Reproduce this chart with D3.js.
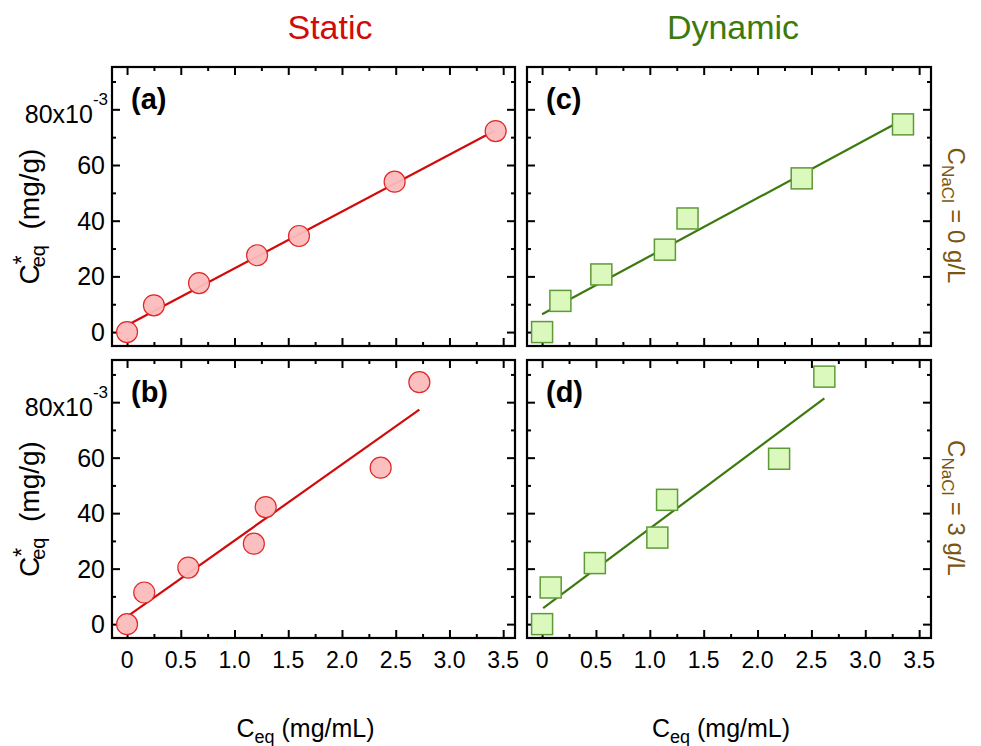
<!DOCTYPE html>
<html>
<head>
<meta charset="utf-8">
<script src="https://cdn.jsdelivr.net/npm/d3@7"></script>
<style>
  body { margin: 0; background: #fff; }
  svg text { font-family: "Liberation Sans", Arial, Helvetica, sans-serif; }
</style>
</head>
<body>
<div id="chart"></div>
<script>
// data, y values in units of 10^-3 mg/g
var xTicks = [0, 0.5, 1.0, 1.5, 2.0, 2.5, 3.0, 3.5];
var yTicks = [0, 20, 40, 60, 80];

var staticNoSaltX = [0, 0.25, 0.67, 1.21, 1.60, 2.49, 3.43];
var staticNoSaltY = [0, 9.6, 17.6, 27.6, 34.5, 54.0, 72.2];
var staticNoSaltFit = [[0.01, 2.6], [3.42, 72.3]];

var staticSaltX = [0, 0.16, 0.57, 1.18, 1.29, 2.36, 2.72];
var staticSaltY = [0, 11.4, 20.4, 29.0, 42.2, 56.4, 87.2];
var staticSaltFit = [[0.01, 3.0], [2.72, 77.3]];

var dynamicNoSaltX = [0, 0.17, 0.55, 1.14, 1.35, 2.41, 3.35];
var dynamicNoSaltY = [0, 11.2, 20.7, 29.6, 40.8, 55.2, 74.6];
var dynamicNoSaltFit = [[0, 6.4], [3.34, 76.1]];

var dynamicSaltX = [0, 0.08, 0.49, 1.07, 1.16, 2.20, 2.62];
var dynamicSaltY = [0, 13.2, 22.0, 31.2, 44.8, 59.6, 89.2];
var dynamicSaltFit = [[0.01, 5.8], [2.62, 81.4]];

var columnTitles = ["Static", "Dynamic"];
var panelLetters = ["(a)", "(b)", "(c)", "(d)"];
var saltLabels = ["0", "3"];

/////////////////////////////////////
// layout
/////////////////////////////////////
var width = 981, height = 746;
var colX = [[112, 515], [527, 931]];
var rowY = [[67, 346], [360, 638]];
var xDomain = [-0.14, 3.61];
var yDomain = [-5, 95.2];

var red = "#d10a0a", green = "#3d7a0e", brown = "#7a5512";

var svg = d3.select("#chart").append("svg")
  .attr("width", width)
  .attr("height", height);

var Panel = function(opt) {
  this.col = opt.col;
  this.row = opt.row;
  this.xs = opt.xs;
  this.ys = opt.ys;
  this.fit = opt.fit;
  this.letter = opt.letter;
  this.kind = opt.kind;
  this.draw();
};

Panel.prototype.draw = function() {
  var that = this;
  var x0 = colX[this.col][0], x1 = colX[this.col][1];
  var y0 = rowY[this.row][0], y1 = rowY[this.row][1];
  this.xScale = d3.scaleLinear().domain(xDomain).range([x0, x1]);
  this.yScale = d3.scaleLinear().domain(yDomain).range([y1, y0]);

  var g = svg.append("g");

  // ticks inside on all four sides, minor ticks between majors
  var xMinor = d3.range(0.25, 3.6, 0.5);
  var yMinor = d3.range(10, 95, 20);
  var sides = [
    { axis: d3.axisBottom, pos: y0, scale: this.xScale, tr: function(p) { return "translate(0," + p + ")"; } },
    { axis: d3.axisTop, pos: y1, scale: this.xScale, tr: function(p) { return "translate(0," + p + ")"; } },
    { axis: d3.axisRight, pos: x0, scale: this.yScale, tr: function(p) { return "translate(" + p + ",0)"; } },
    { axis: d3.axisLeft, pos: x1, scale: this.yScale, tr: function(p) { return "translate(" + p + ",0)"; } }
  ];
  sides.forEach(function(s, i) {
    var isX = i < 2;
    g.append("g").attr("transform", s.tr(s.pos))
      .call(s.axis(s.scale).tickValues(isX ? xTicks : yTicks).tickSize(8).tickFormat(""))
      .call(function(a) { a.select(".domain").remove(); a.selectAll("line").attr("stroke", "#000").attr("stroke-width", 2); });
    g.append("g").attr("transform", s.tr(s.pos))
      .call(s.axis(s.scale).tickValues(isX ? xMinor : yMinor).tickSize(4).tickFormat(""))
      .call(function(a) { a.select(".domain").remove(); a.selectAll("line").attr("stroke", "#000").attr("stroke-width", 2); });
  });

  g.append("rect")
    .attr("x", x0).attr("y", y0)
    .attr("width", x1 - x0).attr("height", y1 - y0)
    .attr("fill", "none")
    .attr("stroke", "#000")
    .attr("stroke-width", 2.2);

  // y tick labels only on the left column
  if (this.col == 0) {
    yTicks.forEach(function(v) {
      var py = that.yScale(v);
      if (v == 80) {
        var t = g.append("text")
          .attr("x", x0 - 4).attr("y", py + 14)
          .attr("text-anchor", "end")
          .attr("font-size", 25);
        t.append("tspan").text("80x10");
        t.append("tspan").attr("dy", -18).attr("font-size", 17).text("-3");
      } else {
        g.append("text")
          .attr("x", x0 - 7).attr("y", py + 9)
          .attr("text-anchor", "end")
          .attr("font-size", 25)
          .text(v);
      }
    });
  }

  // x tick labels only on the bottom row
  if (this.row == 1) {
    xTicks.forEach(function(v) {
      g.append("text")
        .attr("x", that.xScale(v)).attr("y", 668)
        .attr("text-anchor", "middle")
        .attr("font-size", 23)
        .text(v == 0 ? "0" : v.toFixed(1));
    });
  }

  // fit line
  var line = d3.line()
    .x(function(d) { return that.xScale(d[0]); })
    .y(function(d) { return that.yScale(d[1]); });
  g.append("path")
    .datum(this.fit)
    .attr("d", line)
    .attr("fill", "none")
    .attr("stroke", this.kind == "circle" ? red : green)
    .attr("stroke-width", 2.2);

  var pts = this.xs.map(function(v, i) { return { x: v, y: that.ys[i] }; });
  if (this.kind == "circle") {
    g.selectAll("circle.pt").data(pts).enter().append("circle")
      .attr("class", "pt")
      .attr("cx", function(d) { return that.xScale(d.x); })
      .attr("cy", function(d) { return that.yScale(d.y); })
      .attr("r", 10.5)
      .attr("fill", "#fbbcbc")
      .attr("fill-opacity", 0.95)
      .attr("stroke", "#e02828")
      .attr("stroke-width", 1.2);
  } else {
    g.selectAll("rect.pt").data(pts).enter().append("rect")
      .attr("class", "pt")
      .attr("x", function(d) { return that.xScale(d.x) - 10.5; })
      .attr("y", function(d) { return that.yScale(d.y) - 10.5; })
      .attr("width", 21).attr("height", 21)
      .attr("fill", "#dbf8bd")
      .attr("stroke", "#5f9a38")
      .attr("stroke-width", 1.5);
  }

  g.append("text")
    .attr("x", x0 + 19).attr("y", y0 + 42)
    .attr("font-size", 29)
    .attr("font-weight", "bold")
    .text(this.letter);
};

new Panel({ col: 0, row: 0, xs: staticNoSaltX, ys: staticNoSaltY, fit: staticNoSaltFit, letter: panelLetters[0], kind: "circle" });
new Panel({ col: 0, row: 1, xs: staticSaltX, ys: staticSaltY, fit: staticSaltFit, letter: panelLetters[1], kind: "circle" });
new Panel({ col: 1, row: 0, xs: dynamicNoSaltX, ys: dynamicNoSaltY, fit: dynamicNoSaltFit, letter: panelLetters[2], kind: "square" });
new Panel({ col: 1, row: 1, xs: dynamicSaltX, ys: dynamicSaltY, fit: dynamicSaltFit, letter: panelLetters[3], kind: "square" });

// column titles
var titleX = [330, 733];
[red, green].forEach(function(c, i) {
  svg.append("text")
    .attr("x", titleX[i])
    .attr("y", 39)
    .attr("text-anchor", "middle")
    .attr("font-size", 34)
    .attr("fill", c)
    .text(columnTitles[i]);
});

// x axis titles
colX.forEach(function(c) {
  var t = svg.append("text")
    .attr("x", (c[0] + c[1]) / 2 - 8)
    .attr("y", 737)
    .attr("text-anchor", "middle")
    .attr("font-size", 25);
  t.append("tspan").text("C");
  t.append("tspan").attr("font-size", 18).attr("dy", 6).text("eq");
  t.append("tspan").attr("dy", -6).text(" (mg/mL)");
});

// y axis titles
rowY.forEach(function(r) {
  var cy = (r[0] + r[1]) / 2 + 10;
  var t = svg.append("text")
    .attr("transform", "translate(39," + cy + ") rotate(-90)")
    .attr("text-anchor", "middle")
    .attr("font-size", 28);
  t.append("tspan").text("C");
  t.append("tspan").attr("font-size", 23).attr("dy", -9).text("*");
  t.append("tspan").attr("font-size", 20).attr("dx", -12).attr("dy", 15).text("eq");
  t.append("tspan").attr("dy", -6).text("\u00a0\u00a0(mg/g)");
});

// salt concentration labels on the right
rowY.forEach(function(r, i) {
  var cy = (r[0] + r[1]) / 2 + 9;
  var t = svg.append("text")
    .attr("transform", "translate(948," + cy + ") rotate(90)")
    .attr("text-anchor", "middle")
    .attr("font-size", 24)
    .attr("fill", brown);
  t.append("tspan").text("C");
  t.append("tspan").attr("font-size", 17).attr("dy", 6).text("NaCl");
  t.append("tspan").attr("dy", -6).text(" = " + saltLabels[i] + " g/L");
});
</script>
</body>
</html>
